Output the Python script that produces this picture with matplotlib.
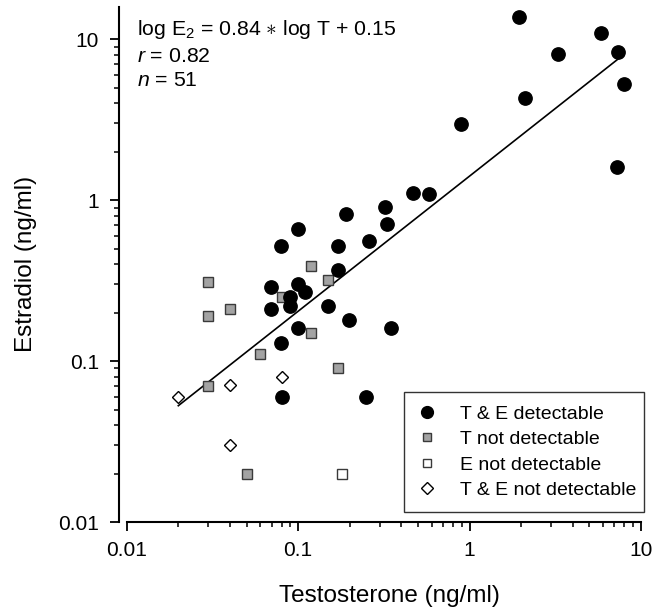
import numpy as np
import matplotlib
matplotlib.use("Agg")
import matplotlib.pyplot as plt
from matplotlib.lines import Line2D
from matplotlib.ticker import LogLocator, FuncFormatter, NullFormatter

plt.rcParams['font.family'] = ['Liberation Sans', 'DejaVu Sans']
plt.rcParams['mathtext.fontset'] = 'custom'
plt.rcParams['mathtext.rm'] = 'Liberation Sans'
plt.rcParams['mathtext.it'] = 'Liberation Sans:italic'
plt.rcParams['mathtext.bf'] = 'Liberation Sans:bold'

# T & E detectable
det_T = [1.93, 5.85, 3.27, 7.38, 7.97, 2.11, 0.889, 7.22, 0.470, 0.581,
         0.321, 0.190, 0.0997, 0.329, 0.260, 0.0798, 0.170, 0.170, 0.0698, 0.0997,
         0.110, 0.0897, 0.0897, 0.0698, 0.150, 0.199, 0.350, 0.0997, 0.0798, 0.080, 0.249]
det_E = [13.8, 11.0, 8.1, 8.3, 5.27, 4.30, 2.99, 1.60, 1.11, 1.09,
         0.912, 0.816, 0.659, 0.708, 0.557, 0.519, 0.519, 0.371, 0.290, 0.301,
         0.270, 0.251, 0.220, 0.211, 0.220, 0.180, 0.161, 0.161, 0.130, 0.060, 0.060]
# T not detectable
tnd_T = [0.030, 0.030, 0.040, 0.119, 0.150, 0.080, 0.119, 0.060, 0.170, 0.030, 0.050]
tnd_E = [0.310, 0.190, 0.210, 0.390, 0.319, 0.250, 0.150, 0.110, 0.090, 0.070, 0.020]
# E not detectable
end_T = [0.180]
end_E = [0.020]
# T & E not detectable
bnd_T = [0.020, 0.040, 0.080, 0.040]
bnd_E = [0.060, 0.071, 0.080, 0.030]

slope, intercept = 0.84, 0.15
fit_T = [0.02, 7.4]

AX_L, AX_R, AX_T, AX_B = 126.7, 641.0, 6.5, 522.0  # pixel frame (from top-left)
W, H = 665, 608

fig = plt.figure(figsize=(6.65, 6.08), dpi=100)
ax = fig.add_axes([AX_L / W, (H - AX_B) / H, (AX_R - AX_L) / W, (AX_B - AX_T) / H])
ax.set_xscale('log')
ax.set_yscale('log')
ax.set_xlim(0.01, 10)
ax.set_ylim(0.01, 16)

fit_E = [10**(slope*np.log10(t) + intercept) for t in fit_T]
ax.plot(fit_T, fit_E, color='black', lw=1.2, zorder=2)

gray_face = '#a3a3a3'
gray_edge = '#3a3a3a'
ax.plot(tnd_T, tnd_E, ls='none', marker='s', ms=7.6, mfc=gray_face, mec=gray_edge, mew=1.0, zorder=3)
ax.plot(end_T, end_E, ls='none', marker='s', ms=7.6, mfc='white', mec=gray_edge, mew=1.0, zorder=3)
ax.plot(bnd_T, bnd_E, ls='none', marker='D', ms=6.6, mfc='white', mec='black', mew=1.0, zorder=3)
ax.plot(det_T, det_E, ls='none', marker='o', ms=9.6, mfc='black', mec='black', zorder=4)

for side in ['top', 'right']:
    ax.spines[side].set_visible(False)
ax.spines['left'].set_position(('outward', 5.8))
for side in ['left', 'bottom']:
    ax.spines[side].set_linewidth(1.5)

fmt = FuncFormatter(lambda v, p: '%g' % v)
ax.xaxis.set_major_locator(LogLocator(base=10, numticks=10))
ax.yaxis.set_major_locator(LogLocator(base=10, numticks=10))
ax.xaxis.set_minor_locator(LogLocator(base=10, subs=np.arange(2, 10), numticks=20))
ax.yaxis.set_minor_locator(LogLocator(base=10, subs=np.arange(2, 10), numticks=20))
ax.xaxis.set_major_formatter(fmt)
ax.yaxis.set_major_formatter(fmt)
ax.xaxis.set_minor_formatter(NullFormatter())
ax.yaxis.set_minor_formatter(NullFormatter())
ax.tick_params(which='major', direction='out', length=6.5, width=1.3, labelsize=15)
ax.tick_params(which='minor', direction='out', length=3.3, width=1.1)
ax.tick_params(axis='x', which='major', pad=7)
ax.tick_params(axis='y', which='major', pad=7.5)

ax.set_xlabel('Testosterone (ng/ml)', fontsize=17.5, labelpad=18, x=0.51)
ax.set_ylabel('Estradiol (ng/ml)', fontsize=17.5, labelpad=15)

def xf(px):
    return (px - AX_L) / (AX_R - AX_L)
def yf(py):
    return (AX_B - py) / (AX_B - AX_T)

ax.text(xf(136.7), yf(35), r'log E$_2$ = 0.84 $\ast$ log T + 0.15', transform=ax.transAxes,
        fontsize=15.3, va='baseline', ha='left')
ax.text(xf(136.7), yf(62.5), r'$r$ = 0.82', transform=ax.transAxes, fontsize=15.3, va='baseline', ha='left')
ax.text(xf(136.7), yf(86.5), r'$n$ = 51', transform=ax.transAxes, fontsize=15.3, va='baseline', ha='left')

handles = [
    Line2D([], [], ls='none', marker='o', ms=8.5, mfc='black', mec='black'),
    Line2D([], [], ls='none', marker='s', ms=6, mfc=gray_face, mec=gray_edge, mew=1.0),
    Line2D([], [], ls='none', marker='s', ms=6, mfc='white', mec=gray_edge, mew=1.0),
    Line2D([], [], ls='none', marker='D', ms=6, mfc='white', mec='black', mew=1.0),
]
labels = ['T & E detectable', 'T not detectable', 'E not detectable', 'T & E not detectable']
lx0, ly0, lx1, ly1 = 404, 392.3, 644, 511.7
bbox = (xf(lx0), yf(ly1), xf(lx1) - xf(lx0), yf(ly0) - yf(ly1))
leg = ax.legend(handles, labels, loc='center', bbox_to_anchor=bbox, bbox_transform=ax.transAxes,
                mode='expand', fontsize=14, frameon=True, fancybox=False, edgecolor='black',
                handletextpad=1.2, handlelength=1.0, labelspacing=0.40, borderpad=0.68,
                borderaxespad=0, numpoints=1)
leg.get_frame().set_linewidth(1.0)

fig.savefig('out.png', dpi=100)
